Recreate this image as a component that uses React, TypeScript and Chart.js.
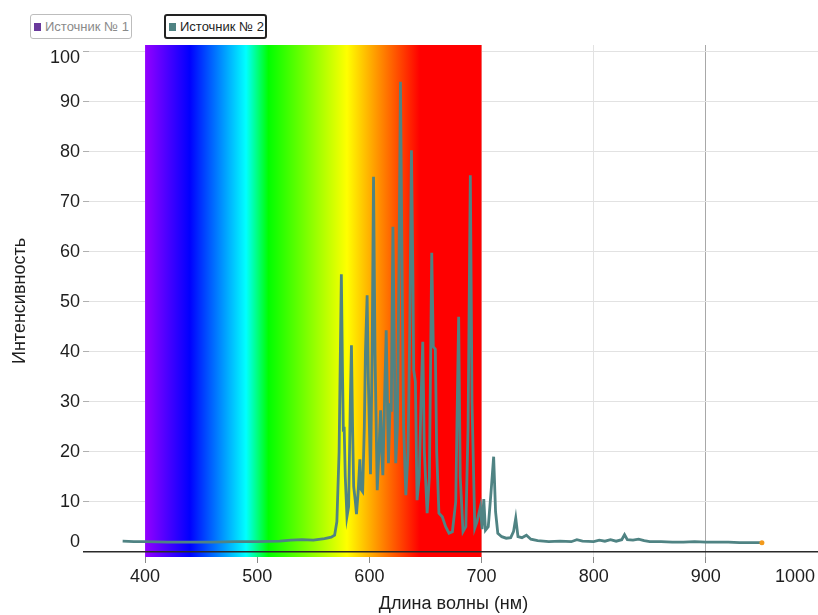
import React, { useEffect, useRef } from "react";
import { Chart, registerables } from "chart.js";

Chart.register(...registerables);

// ---- data ----
const seriesNames = ["Источник № 1", "Источник № 2"];
const seriesColors = ["#6a3a9c", "#4f8383"];

const wavelengths = [
  380, 390, 400, 420, 440, 460, 480, 500, 520, 530, 540, 550, 560, 566, 569, 571, 573, 575, 576, 576.8,
  577.5, 578.5, 580, 581.5, 583, 584, 585, 586, 587.5, 588.5, 590, 591.5, 592.5, 594, 595.5, 596.5, 598, 599,
  601, 602.5, 603.7, 605, 607, 608.5, 610, 611, 612, 613.5, 615, 616.5, 617, 618.5, 619.5, 621, 622.5, 623.5,
  625, 626.5, 627.7, 629, 630.5, 632.5, 634.5, 636, 637.5, 638.8, 639.5, 641, 642.5, 644.5, 646, 647.6, 649,
  651.5, 653.5, 655.6, 657, 658.8, 660, 662, 665, 668, 671, 674, 677, 679.6, 681, 683.5, 686, 688, 690, 691.5,
  694, 696, 699, 700.5, 702, 703.5, 706, 708.5, 710.8, 712.5, 714.5, 718, 722, 726, 728.5, 730.5, 732.5, 736,
  740, 744, 750, 760, 770, 780, 785, 790, 800, 805, 810, 815, 820, 825, 827.5, 830, 835, 840, 845, 850, 860,
  870, 880, 890, 900, 910, 920, 930, 940, 950,
];
const intensities = [
  2.1, 2.0, 2.0, 1.9, 1.9, 1.9, 2.0, 2.0, 2.1, 2.3, 2.4, 2.3, 2.6, 2.9, 3.3, 6, 20, 55.5, 36, 24,
  25, 15, 7, 9, 30, 41.3, 25, 13, 10, 7.5, 12, 18.5, 12.5, 12, 25, 40, 51.3, 35,
  15.5, 40, 75, 40, 12.3, 20, 28.3, 20, 15.3, 30, 44.3, 25, 17.7, 29.7, 28, 65, 35, 17.7,
  25, 60, 94, 60, 25, 11.3, 20, 45, 80.3, 55, 36.3, 34, 10.3, 15, 30, 42, 20,
  7.7, 15, 59.8, 41, 40.5, 20, 7.7, 7, 5, 3.7, 4, 10, 47, 15, 4, 5, 25, 75.3, 30,
  4.7, 6, 9, 4.5, 10.5, 4.3, 5, 12, 19, 8, 3.7, 3, 2.7, 2.8, 4, 6.7, 3, 2.8,
  3.3, 2.5, 2.2, 2.0, 2.1, 2.0, 2.4, 2.1, 2.0, 2.3, 2.1, 2.4, 2.1, 2.4, 3.4, 2.4, 2.3, 2.5, 2.2, 2.0, 2.0,
  1.9, 1.9, 2.0, 1.9, 1.9, 1.9, 1.8, 1.8, 1.8,
];

const xTicks = [400, 500, 600, 700, 800, 900, 1000];
const yTicks = [0, 10, 20, 30, 40, 50, 60, 70, 80, 90, 100];

const bandStops: [number, string][] = [
  [400, "#9400ff"],
  [440, "#0000ff"],
  [490, "#00ffff"],
  [510, "#00ff00"],
  [580, "#ffff00"],
  [645, "#ff0000"],
  [700, "#ff0000"],
];

const FONT = "'Liberation Sans', Arial, sans-serif";

const spectrumPlugin = {
  id: "spectrumBand",
  beforeDatasetsDraw(chart: any) {
    const { ctx, chartArea, scales } = chart;
    const x = scales.x;
    const y = scales.y;
    const start = bandStops[0][0];
    const end = bandStops[bandStops.length - 1][0];
    const x0 = x.getPixelForValue(start);
    const x1 = x.getPixelForValue(end);
    ctx.save();
    const g = ctx.createLinearGradient(x0, 0, x1, 0);
    bandStops.forEach(([nm, c]) => g.addColorStop((nm - start) / (end - start), c));
    ctx.fillStyle = g;
    ctx.fillRect(x0, chartArea.top, x1 - x0, chartArea.bottom - chartArea.top);
    const y0 = y.getPixelForValue(0);
    ctx.strokeStyle = "#2a2a2a";
    ctx.lineWidth = 1.5;
    ctx.beginPath();
    ctx.moveTo(chartArea.left - 6, y0);
    ctx.lineTo(chartArea.right, y0);
    ctx.stroke();
    ctx.restore();
  },
  afterDraw(chart: any) {
    const { ctx, chartArea, scales, width } = chart;
    const x = scales.x;
    const y = scales.y;
    ctx.save();
    ctx.font = `18px ${FONT}`;
    ctx.fillStyle = "#1e1e1e";
    ctx.textBaseline = "middle";
    ctx.textAlign = "right";
    yTicks.forEach((v) => {
      let py = y.getPixelForValue(v);
      if (v === yTicks[0]) py -= 10;
      if (v === yTicks[yTicks.length - 1]) py += 6;
      ctx.fillText(String(v), chartArea.left - 9, py);
    });
    ctx.textAlign = "center";
    xTicks.forEach((v) => {
      const label = String(v);
      const w = ctx.measureText(label).width;
      let px = x.getPixelForValue(v);
      px = Math.min(px, width - 3 - w / 2);
      ctx.fillText(label, px, chartArea.bottom + 20);
    });
    ctx.restore();
  },
};

export default function App() {
  const ref = useRef<HTMLCanvasElement | null>(null);

  useEffect(() => {
    if (!ref.current) return;
    const points = wavelengths.map((w, i) => ({ x: w, y: intensities[i] }));
    const last = points.length - 1;
    const chart = new Chart(ref.current, {
      type: "line",
      data: {
        datasets: [
          {
            label: seriesNames[0],
            data: [],
            hidden: true,
            borderColor: seriesColors[0],
            backgroundColor: seriesColors[0],
          },
          {
            label: seriesNames[1],
            data: points,
            borderColor: seriesColors[1],
            backgroundColor: seriesColors[1],
            borderWidth: 2.8,
            tension: 0,
            pointRadius: (c: any) => (c.dataIndex === last ? 2.5 : 0),
            pointBackgroundColor: "#f29a1c",
            pointBorderColor: "#f29a1c",
            pointBorderWidth: 0,
          },
        ],
      },
      options: {
        animation: false,
        responsive: false,
        devicePixelRatio: 1,
        layout: { autoPadding: false, padding: { top: 45, right: 0, left: 0, bottom: 0 } },
        plugins: {
          legend: { display: false },
          tooltip: { enabled: false },
        },
        scales: {
          x: {
            type: "linear",
            min: 350,
            max: 1000,
            afterBuildTicks: (s: any) => {
              s.ticks = xTicks.map((value) => ({ value }));
            },
            afterFit: (s: any) => {
              s.height = 58;
            },
            ticks: { display: false },
            border: { display: false },
            grid: {
              color: (c: any) => (c.tick && c.tick.value === 900 ? "#a8a8a8" : "#e2e2e2"),
              tickColor: "#8a8a8a",
              tickLength: 6,
              lineWidth: 1,
            },
            title: {
              display: true,
              text: "Длина волны (нм)",
              color: "#1e1e1e",
              font: { family: FONT, size: 18 },
              padding: { top: 0, bottom: 0 },
            },
          },
          y: {
            type: "linear",
            min: -1.06,
            max: 101.34,
            afterBuildTicks: (s: any) => {
              s.ticks = yTicks.map((value) => ({ value }));
            },
            afterFit: (s: any) => {
              s.width = 89;
            },
            ticks: { display: false },
            border: { display: false },
            grid: {
              color: "#e2e2e2",
              tickColor: "#b0b0b0",
              tickLength: 6,
              lineWidth: 1,
            },
            title: {
              display: true,
              text: "Интенсивность",
              color: "#1e1e1e",
              font: { family: FONT, size: 18 },
              padding: { top: 9, bottom: 0 },
            },
          },
        },
      },
      plugins: [spectrumPlugin],
    });
    return () => chart.destroy();
  }, []);

  const legendBox = (i: number, active: boolean, left: number): React.ReactNode => (
    <div
      key={i}
      style={{
        position: "absolute",
        left,
        top: 14,
        width: active ? 99 : 100,
        height: active ? 21 : 23,
        border: active ? "2px solid #222" : "1px solid #bdbdbd",
        borderRadius: 3,
        background: "#fff",
        display: "flex",
        alignItems: "center",
        boxSizing: "content-box",
        fontFamily: FONT,
        fontSize: 13,
        color: active ? "#1e1e1e" : "#8a8a8a",
        whiteSpace: "nowrap",
      }}
    >
      <span
        style={{
          display: "inline-block",
          width: 7,
          height: 8,
          background: seriesColors[i],
          marginLeft: 3,
          marginRight: 4,
        }}
      />
      {seriesNames[i]}
    </div>
  );

  return (
    <div style={{ position: "fixed", left: 0, top: 0, width: 818, height: 615, background: "#fff" }}>
      <canvas ref={ref} width={818} height={615} style={{ position: "absolute", left: 0, top: 0 }} />
      {legendBox(0, false, 30)}
      {legendBox(1, true, 164)}
    </div>
  );
}
